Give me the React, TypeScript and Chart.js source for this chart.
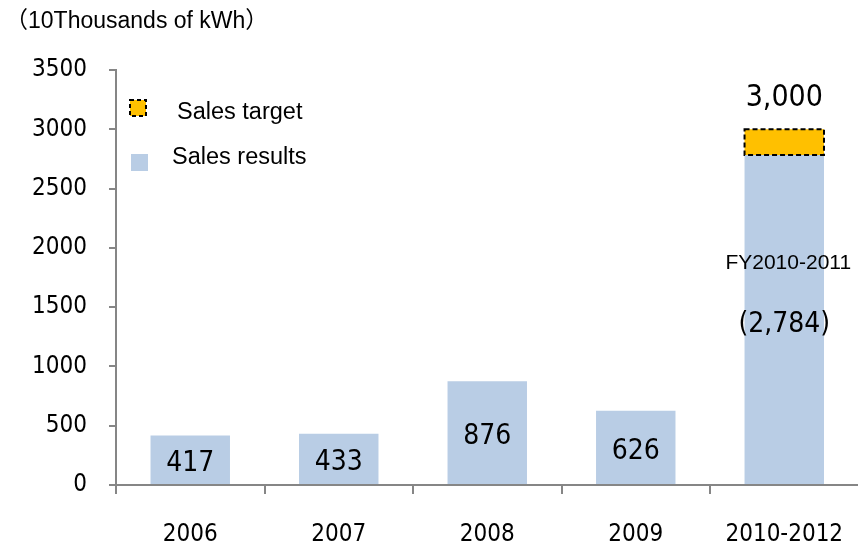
import React, { useEffect, useRef } from "react";
import { Chart, registerables } from "chart.js";

Chart.register(...registerables);

const categories = ["2006", "2007", "2008", "2009", "2010-2012"];
const salesResults = [417, 433, 876, 626, 2784];
const targetTotal = 3000;
const salesTarget = [null, null, null, null, targetTotal - 2784];
const valueLabels = ["417", "433", "876", "626"];
// vertical anchor (in data units) where each in-bar label is centred
const valueLabelAnchors = [177, 190, 405, 278];
const yTicks = [0, 500, 1000, 1500, 2000, 2500, 3000, 3500];
const unitTitle = "（10Thousands of kWh）";
const targetLabel = "3,000";
const periodLabel = "FY2010-2011";
const periodValueLabel = "(2,784)";
const legendLabels = ["Sales target", "Sales results"];

const BLUE = "#B9CDE5";
const ORANGE = "#FFC000";
const AXIS = "#868686";
const NUM_FONT = '"DejaVu Sans Condensed", "Liberation Sans Narrow", sans-serif';
const TXT_FONT = '"Liberation Sans", Arial, "Noto Sans CJK JP", sans-serif';

const overlayPlugin = {
  id: "overlay",
  afterDatasetsDraw(chart: any) {
    const { ctx } = chart;
    const yScale = chart.scales.y;
    const metaR = chart.getDatasetMeta(0);
    const metaT = chart.getDatasetMeta(1);
    ctx.save();
    // dashed border around target segment
    const el = metaT.data[4];
    if (el) {
      const p = el.getProps(["x", "y", "base", "width"], true);
      ctx.setLineDash([5, 3]);
      ctx.lineWidth = 2;
      ctx.strokeStyle = "#000";
      ctx.strokeRect(p.x - p.width / 2, p.y, p.width, p.base - p.y);
      ctx.setLineDash([]);
    }
    // in-bar value labels
    ctx.fillStyle = "#000";
    ctx.textAlign = "center";
    ctx.textBaseline = "middle";
    ctx.font = `28px ${NUM_FONT}`;
    valueLabels.forEach((t, i) => {
      const b = metaR.data[i];
      ctx.fillText(t, b.x, yScale.getPixelForValue(valueLabelAnchors[i]));
    });
    const last = metaR.data[4];
    const lx = last.x;
    ctx.font = `30px ${NUM_FONT}`;
    ctx.fillText(targetLabel, lx, yScale.getPixelForValue(targetTotal) - 31);
    ctx.font = `21px ${TXT_FONT}`;
    ctx.fillText(periodLabel, lx + 4, yScale.getPixelForValue(1870));
    ctx.font = `28px ${NUM_FONT}`;
    ctx.fillText(periodValueLabel, lx, yScale.getPixelForValue(1350));

    // legend
    const ca = chart.chartArea;
    ctx.textAlign = "left";
    ctx.fillStyle = ORANGE;
    const ox = ca.left + 14, oy = ca.top + 30;
    ctx.fillRect(ox, oy, 16, 16);
    ctx.setLineDash([4, 3]);
    ctx.lineWidth = 2;
    ctx.strokeStyle = "#000";
    ctx.strokeRect(ox, oy, 16, 16);
    ctx.setLineDash([]);
    ctx.fillStyle = "#000";
    ctx.font = `23.5px ${TXT_FONT}`;
    ctx.fillText(legendLabels[0], ca.left + 61, ca.top + 43);
    ctx.fillStyle = BLUE;
    ctx.fillRect(ca.left + 15, ca.top + 84, 17, 17);
    ctx.fillStyle = "#000";
    ctx.fillText(legendLabels[1], ca.left + 56, ca.top + 88);

    // unit title
    ctx.font = `23px ${TXT_FONT}`;
    ctx.fillText(unitTitle, 5, 22);
    ctx.restore();
  },
};

export default function App() {
  const ref = useRef<HTMLCanvasElement>(null);
  useEffect(() => {
    document.body.style.overflow = "hidden";
    const chart = new Chart(ref.current!, {
      type: "bar",
      data: {
        labels: categories,
        datasets: [
          {
            label: legendLabels[1],
            data: salesResults,
            backgroundColor: BLUE,
            borderWidth: 0,
            stack: "s",
          },
          {
            label: legendLabels[0],
            data: salesTarget as any,
            backgroundColor: ORANGE,
            borderWidth: 0,
            stack: "s",
          },
        ],
      },
      options: {
        responsive: false,
        animation: false,
        layout: { padding: { left: 0, top: 70, right: 9, bottom: 0 } },
        datasets: { bar: { categoryPercentage: 1, barPercentage: 0.535 } },
        plugins: { legend: { display: false }, tooltip: { enabled: false } },
        scales: {
          x: {
            stacked: true,
            grid: { drawOnChartArea: false, color: AXIS, tickLength: 9, lineWidth: 2 },
            border: { color: AXIS, width: 2 },
            ticks: { color: "#000", font: { family: NUM_FONT, size: 24 }, padding: 26 },
            afterFit: (s: any) => { s.height = 59; },
          },
          y: {
            stacked: true,
            min: 0,
            max: 3500,
            afterBuildTicks: (s: any) => { s.ticks = yTicks.map((v) => ({ value: v })); },
            grid: { drawOnChartArea: false, color: AXIS, tickLength: 7, lineWidth: 2 },
            border: { color: AXIS, width: 2 },
            ticks: {
              color: "#000",
              font: { family: NUM_FONT, size: 24 },
              padding: 22,
              callback: (v: any) => String(v),
            },
            afterFit: (s: any) => { s.width = 116; },
          },
        },
      },
      plugins: [overlayPlugin],
    });
    return () => chart.destroy();
  }, []);
  return (
    <div style={{ position: "fixed", left: 0, top: 0, width: 870, height: 544 }}>
      <canvas ref={ref} width={870} height={544} />
    </div>
  );
}
